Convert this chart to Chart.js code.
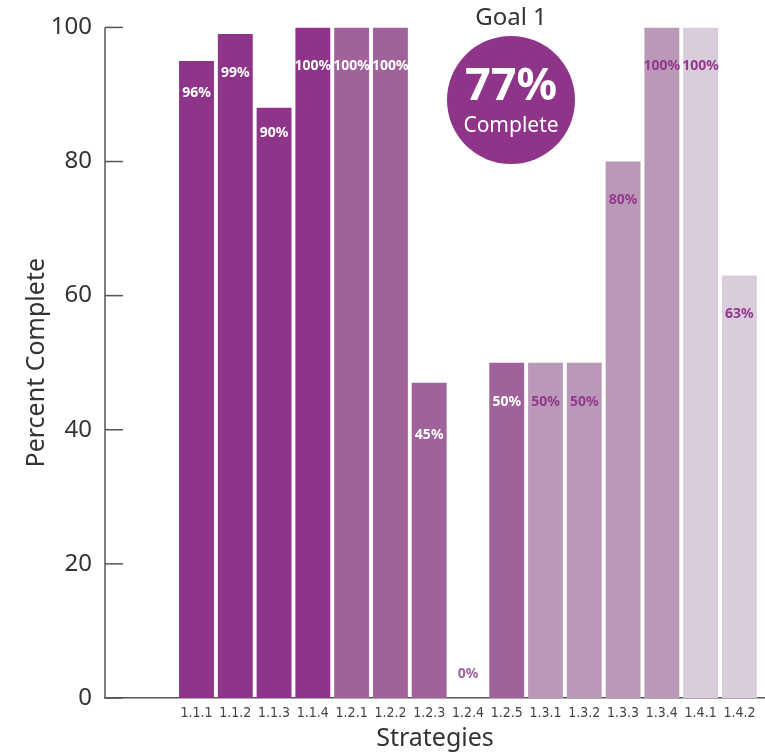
<!DOCTYPE html>
<html lang="en">
<head>
  <meta charset="UTF-8" />
  <title>Goal 1 – Percent Complete</title>
  <script src="https://cdn.jsdelivr.net/npm/chart.js"></script>
  <style>
    html, body { margin: 0; padding: 0; background: #fff; overflow: hidden; }
    #wrap { width: 765px; height: 756px; }
  </style>
</head>
<body>
  <div id="wrap"><canvas id="goalChart"></canvas></div>

  <script>
    // strategies and how far along each one is
    const strategies = ['1.1.1', '1.1.2', '1.1.3', '1.1.4', '1.2.1', '1.2.2', '1.2.3', '1.2.4',
                        '1.2.5', '1.3.1', '1.3.2', '1.3.3', '1.3.4', '1.4.1', '1.4.2'];
    const percentDone = [95, 99, 88, 100, 100, 100, 47, 0, 50, 50, 50, 80, 100, 100, 63];
    // the printed labels don't always match the bar height in the original
    const percentLabels = [96, 99, 90, 100, 100, 100, 45, 0, 50, 50, 50, 80, 100, 100, 63];
    const yTicks = [0, 20, 40, 60, 80, 100];
    const goalName = 'Goal 1';
    const goalPercent = 77;

    const groupColors = { '1.1': '#8f3589', '1.2': '#a0629b', '1.3': '#ba99b8', '1.4': '#dacddb' };
    const darkGroups = ['1.1', '1.2'];
    const barColors = strategies.map(s => groupColors[s.slice(0, 3)]);
    const labelColors = strategies.map((s, i) => {
      if (percentDone[i] === 0) return groupColors[s.slice(0, 3)];
      return darkGroups.includes(s.slice(0, 3)) ? '#ffffff' : '#93388d';
    });

    const FONT = '"Noto Sans", "DejaVu Sans", sans-serif';
    const NARROW = '"Liberation Sans Narrow", "DejaVu Sans Condensed", sans-serif';

    // y axis line plus small inward tick marks
    const yAxisLine = {
      id: 'yAxisLine',
      afterDraw(chart) {
        const { ctx, chartArea, scales } = chart;
        const x = chartArea.left;
        ctx.save();
        ctx.strokeStyle = '#555';
        ctx.lineWidth = 1.5;
        ctx.beginPath();
        ctx.moveTo(x, scales.y.getPixelForValue(100));
        ctx.lineTo(x, scales.y.getPixelForValue(0));
        ctx.stroke();
        yTicks.forEach(t => {
          const y = scales.y.getPixelForValue(t);
          ctx.beginPath();
          ctx.moveTo(x, y);
          ctx.lineTo(x + 18, y);
          ctx.stroke();
        });
        ctx.restore();
      }
    };

    // percent labels inside the bars
    const barLabels = {
      id: 'barLabels',
      afterDatasetsDraw(chart) {
        const { ctx, scales } = chart;
        const meta = chart.getDatasetMeta(0);
        ctx.save();
        ctx.font = 'bold 14px ' + FONT;
        ctx.textAlign = 'center';
        ctx.textBaseline = 'middle';
        meta.data.forEach((bar, i) => {
          const v = Math.max(percentLabels[i] - 5.8, 3.6);
          ctx.fillStyle = labelColors[i];
          ctx.fillText(percentLabels[i] + '%', bar.x, scales.y.getPixelForValue(v));
        });
        ctx.restore();
      }
    };

    // the "Goal 1 / 77% Complete" badge
    const goalBadge = {
      id: 'goalBadge',
      afterDraw(chart) {
        const { ctx } = chart;
        const cx = 511, cy = 100;
        ctx.save();
        ctx.textAlign = 'center';
        ctx.textBaseline = 'middle';
        ctx.fillStyle = '#333';
        ctx.font = '24px ' + FONT;
        ctx.fillText(goalName, cx, 18);
        ctx.beginPath();
        ctx.arc(cx, cy, 64, 0, Math.PI * 2);
        ctx.fillStyle = '#8f3589';
        ctx.fill();
        ctx.fillStyle = '#fff';
        ctx.font = 'bold 45px ' + FONT;
        ctx.fillText(goalPercent + '%', cx, 87);
        ctx.font = '21px ' + FONT;
        ctx.fillText('Complete', cx, 126);
        ctx.restore();
      }
    };

    new Chart(document.getElementById('goalChart'), {
      type: 'bar',
      data: {
        datasets: [{
          data: strategies.map((s, i) => ({ x: i, y: percentDone[i] })),
          backgroundColor: barColors,
          borderWidth: 0,
          barPercentage: 0.9,
          categoryPercentage: 1
        }]
      },
      options: {
        responsive: true,
        maintainAspectRatio: false,
        animation: false,
        layout: { padding: { top: 25, right: 0, left: 0, bottom: 0 } },
        plugins: { legend: { display: false }, tooltip: { enabled: false } },
        scales: {
          x: {
            type: 'linear',
            offset: false,
            min: -2.36,
            max: 14.66,
            z: 1,
            grid: { display: false, drawTicks: false, offset: false },
            border: { display: true, color: '#555', width: 1.5 },
            ticks: {
              stepSize: 1,
              includeBounds: false,
              autoSkip: false,
              maxRotation: 0,
              padding: 7,
              color: '#444',
              font: { family: NARROW, size: 14 },
              callback: v => (Number.isInteger(v) && strategies[v]) ? strategies[v] : ''
            },
            title: {
              display: true,
              text: 'Strategies',
              color: '#333',
              font: { family: FONT, size: 25 },
              padding: { top: 0, bottom: 2 }
            },
            afterFit(scale) { scale.height = 58; }
          },
          y: {
            min: 0,
            max: 100,
            grid: { display: false, drawTicks: false },
            border: { display: false },
            ticks: {
              stepSize: 20,
              padding: 13,
              color: '#333',
              font: { family: FONT, size: 24 }
            },
            title: {
              display: true,
              text: 'Percent Complete',
              color: '#333',
              font: { family: FONT, size: 25 },
              padding: { top: 22, bottom: 0 }
            },
            afterFit(scale) { scale.width = 105; }
          }
        }
      },
      plugins: [yAxisLine, barLabels, goalBadge]
    });
  </script>
</body>
</html>
